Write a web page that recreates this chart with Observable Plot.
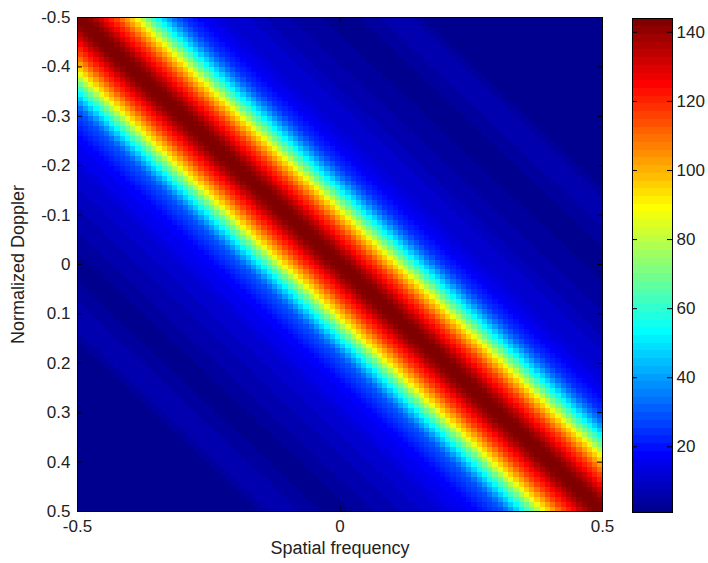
<!DOCTYPE html>
<html>
<head>
<meta charset="utf-8">
<script src="https://cdn.jsdelivr.net/npm/d3@7"></script>
<script src="https://cdn.jsdelivr.net/npm/@observablehq/plot@0.6"></script>
<style>
  html, body { margin: 0; padding: 0; background: #fff; }
  #chart { position: relative; width: 708px; height: 563px; }
  #chart svg { position: absolute; top: 0; }
</style>
</head>
<body>
<div id="chart"></div>
<script>
// Axis ticks
const spatialTicks = [-0.5, 0, 0.5];
const dopplerTicks = [-0.5, -0.4, -0.3, -0.2, -0.1, 0, 0.1, 0.2, 0.3, 0.4, 0.5];
const colorbarTicks = [20, 40, 60, 80, 100, 120, 140];

// Grid of 100 x 100 bins spanning [-0.5, 0.5] on both axes
const binCount = 100;
const binStep = 0.01;

// Clutter power across the ridge, indexed by the bin distance from the diagonal,
// on the side where spatial frequency exceeds Doppler (upper right)
const ridgeAbove = [
  144, 142.5, 140, 136, 131, 126, 121, 115, 109, 102,
  95, 87, 79, 70, 62, 54, 47, 40, 34, 29,
  25, 22, 19.5, 17.5, 16, 14.5, 13.5, 13, 12, 11.5,
  11, 10.5, 10, 9, 8.5, 8, 7.5, 7, 6.5, 6,
  5.5, 5, 4.5, 4, 4, 3.5, 3.5, 3, 3, 2.5,
  2.5, 2.5, 2.5, 3, 3.5, 4, 4.5, 5, 5.5, 6,
  6, 6, 6, 5.5, 5, 4, 3, 2.5, 2, 2,
  1.8, 1.6, 1.5, 1.5, 1.4, 1.3, 1.3, 1.2, 1.2, 1.2,
  1.3, 1.4, 1.5, 1.6, 1.6, 1.5, 1.4, 1.3, 1.2, 1.1,
  1.1, 1.1, 1.2, 1.2, 1.2, 1.1, 1.1, 1.0, 1.0, 1.0
];
// ... and on the side where Doppler exceeds spatial frequency (lower left)
const ridgeBelow = [
  144, 142.5, 140, 136, 131, 126, 121, 115, 109, 102,
  95, 87, 79, 70, 62, 54, 47, 40, 34, 29,
  26, 23.5, 21.5, 20, 18.5, 17.5, 16.5, 15.5, 14.5, 13.5,
  13, 12, 11.5, 11, 10, 9.5, 9, 8.5, 8, 7.5,
  7, 6.5, 6, 5.5, 5, 4.5, 4, 3.5, 3, 2.5,
  2.5, 2.5, 2.5, 3, 3.5, 4, 4.5, 5, 5.5, 6,
  6, 6, 6, 5.5, 5, 4, 3, 2.5, 2, 2,
  1.8, 1.6, 1.5, 1.5, 1.4, 1.3, 1.3, 1.2, 1.2, 1.2,
  1.3, 1.4, 1.5, 1.6, 1.6, 1.5, 1.4, 1.3, 1.2, 1.1,
  1.1, 1.1, 1.2, 1.2, 1.2, 1.1, 1.1, 1.0, 1.0, 1.0
];

const cells = [];
for (let j = 0; j < binCount; ++j) {
  for (let i = 0; i < binCount; ++i) {
    cells.push({
      spatial: -0.5 + (i + 0.5) * binStep,
      doppler: -0.5 + (j + 0.5) * binStep,
      power: i >= j ? ridgeAbove[i - j] : ridgeBelow[j - i]
    });
  }
}
const powerExtent = d3.extent(cells, d => d.power);

// MATLAB-style 64-level jet colormap
function jet(t) {
  const i = Math.max(1, Math.min(64, Math.floor(t * 64) + 1));
  const r = i <= 24 ? 0 : i <= 40 ? (i - 24) / 16 : i <= 55 ? 1 : (72 - i) / 16;
  const g = i <= 8 ? 0 : i <= 24 ? (i - 8) / 16 : i <= 39 ? 1 : i <= 55 ? (56 - i) / 16 : 0;
  const b = i <= 8 ? (i + 8) / 16 : i <= 23 ? 1 : i <= 39 ? (40 - i) / 16 : 0;
  return `rgb(${Math.round(r * 255)},${Math.round(g * 255)},${Math.round(b * 255)})`;
}

const colorScale = {type: "linear", domain: powerExtent, interpolate: jet};
const font = {fontFamily: "'Liberation Sans', Arial, sans-serif", fontSize: "17px", color: "#222", background: "transparent"};
const fmt = d => String(d);

const W = 708, H = 563;
const mL = 77, mR = 106, mT = 17, mB = 52;
const innerW = W - mL - mR, innerH = H - mT - mB;
const tickLen = 5;

const main = Plot.plot({
  width: W,
  height: H,
  marginLeft: mL,
  marginRight: mR,
  marginTop: mT,
  marginBottom: mB,
  style: font,
  x: {domain: [-0.5, 0.5]},
  y: {domain: [-0.5, 0.5], reverse: true},
  color: colorScale,
  marks: [
    Plot.raster(cells, {
      x: "spatial", y: "doppler", fill: "power",
      x1: -0.5, x2: 0.5, y1: -0.5, y2: 0.5,
      width: binCount, height: binCount,
      imageRendering: "pixelated"
    }),
    Plot.frame({stroke: "#000", strokeWidth: 1}),
    // inward ticks on all four sides
    Plot.ruleX(spatialTicks, {x: d => d, insetTop: innerH - tickLen, stroke: "#000"}),
    Plot.ruleX(spatialTicks, {x: d => d, insetBottom: innerH - tickLen, stroke: "#000"}),
    Plot.ruleY(dopplerTicks, {y: d => d, insetRight: innerW - tickLen, stroke: "#000"}),
    Plot.ruleY(dopplerTicks, {y: d => d, insetLeft: innerW - tickLen, stroke: "#000"}),
    Plot.axisX({ticks: spatialTicks, tickSize: 0, tickPadding: 8, tickFormat: fmt, label: null}),
    Plot.axisY({ticks: dopplerTicks, tickSize: 0, tickPadding: 7, tickFormat: fmt, label: null}),
    Plot.text(["Spatial frequency"], {text: d => d, frameAnchor: "bottom", textAnchor: "middle", dy: 42, fontSize: 18}),
    Plot.text(["Normalized Doppler"], {text: d => d, frameAnchor: "left", textAnchor: "middle", dx: -59, rotate: -90, fontSize: 18})
  ]
});
main.style.left = "0px";

const cbL = 32, cbR = 36, cbT = 18, cbB = 51, cbW = 108;
const cbInnerW = cbW - cbL - cbR;
const colorbar = Plot.plot({
  width: cbW,
  height: H,
  marginLeft: cbL,
  marginRight: cbR,
  marginTop: cbT,
  marginBottom: cbB,
  style: font,
  x: {domain: [0, 1], axis: null},
  y: {domain: powerExtent},
  color: colorScale,
  marks: [
    Plot.raster({
      fill: (x, y) => y,
      x1: 0, x2: 1, y1: powerExtent[0], y2: powerExtent[1],
      width: 1, height: 64,
      imageRendering: "pixelated"
    }),
    Plot.frame({stroke: "#000", strokeWidth: 1}),
    Plot.ruleY(colorbarTicks, {y: d => d, insetRight: cbInnerW - tickLen, stroke: "#000"}),
    Plot.ruleY(colorbarTicks, {y: d => d, insetLeft: cbInnerW - tickLen, stroke: "#000"}),
    Plot.axisY({anchor: "right", ticks: colorbarTicks, tickSize: 0, tickPadding: 4, tickFormat: fmt, label: null})
  ]
});
colorbar.style.left = "600px";

const chart = document.getElementById("chart");
chart.append(main, colorbar);
</script>
</body>
</html>
